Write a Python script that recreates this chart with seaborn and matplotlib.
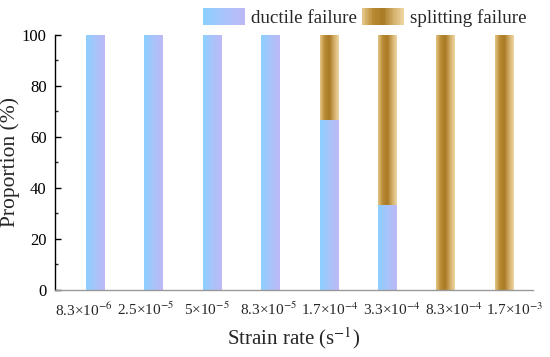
import matplotlib
matplotlib.use('Agg')
import matplotlib.pyplot as plt
import numpy as np
import pandas as pd
import seaborn as sns
from matplotlib.colors import LinearSegmentedColormap
from matplotlib.legend_handler import HandlerBase
from matplotlib.patches import Rectangle
from matplotlib.ticker import MultipleLocator, AutoMinorLocator

# Data
strain_rates = ['8.3×10$^{-6}$', '2.5×10$^{-5}$', '5×10$^{-5}$', '8.3×10$^{-5}$',
                '1.7×10$^{-4}$', '3.3×10$^{-4}$', '8.3×10$^{-4}$', '1.7×10$^{-3}$']
ductile = [100, 100, 100, 100, 66.7, 33.3, 0, 0]
splitting = [0, 0, 0, 0, 33.3, 66.7, 100, 100]

sns.set_style('ticks')
plt.rcParams['font.family'] = ['Liberation Serif', 'DejaVu Serif']
plt.rcParams['mathtext.fontset'] = 'stix'

blue_cmap = LinearSegmentedColormap.from_list('blue', ['#8bd0ff', '#a9c4fb', '#bdb9f6'])
gold_cmap = LinearSegmentedColormap.from_list('gold', ['#e4c483', '#b88a33', '#a87a24', '#d2ad67', '#eed6a3'])

df = pd.DataFrame({'rate': strain_rates, 'ductile': ductile, 'splitting': splitting})
df['total'] = df['ductile'] + df['splitting']

fig = plt.figure(figsize=(5.5, 3.57), dpi=100)
ax = fig.add_axes([0.1, 0.188, 0.869, 0.714])

# stacked bars: totals (splitting on top) then ductile in front
sns.barplot(data=df, x='rate', y='total', width=0.31, color='#b88a33', ax=ax)
gold_bars = list(ax.patches)
sns.barplot(data=df, x='rate', y='ductile', width=0.31, color='#a9c4fb', ax=ax)
blue_bars = list(ax.patches)[len(gold_bars):]

grad = np.linspace(0, 1, 64)[np.newaxis, :]


def add_gradient(patch, cmap, z):
    x0, y0 = patch.get_x(), patch.get_y()
    w, h = patch.get_width(), patch.get_height()
    if h <= 0:
        return
    im = ax.imshow(grad, cmap=cmap, extent=[x0, x0 + w, y0, y0 + h],
                   aspect='auto', interpolation='bilinear', zorder=z)
    im.set_clip_path(patch)


for p in gold_bars:
    p.set_zorder(1.0)
    p.set_edgecolor('none')
    add_gradient(p, gold_cmap, 1.1)
for p in blue_bars:
    p.set_zorder(1.2)
    p.set_edgecolor('none')
    add_gradient(p, blue_cmap, 1.3)

ax.set_xlim(-0.685, 7.5)
ax.set_ylim(0, 100)


# legend with gradient handles
class GradientHandler(HandlerBase):
    def __init__(self, cmap):
        super().__init__()
        self.cmap = cmap

    def create_artists(self, legend, orig_handle, xdescent, ydescent, width, height, fontsize, trans):
        n = 30
        arts = []
        for i in range(n):
            r = Rectangle((-xdescent + width * i / n, -ydescent), width / n * 1.05, height,
                          facecolor=self.cmap(i / (n - 1)), edgecolor='none', transform=trans)
            arts.append(r)
        return arts


h_duct = Rectangle((0, 0), 1, 1)
h_split = Rectangle((0, 0), 1, 1)
fig.legend([h_duct, h_split], ['ductile failure', 'splitting failure'],
           handler_map={h_duct: GradientHandler(blue_cmap), h_split: GradientHandler(gold_cmap)},
           loc='upper right', bbox_to_anchor=(0.978, 1.01), ncol=2, frameon=False,
           fontsize=13.7, handlelength=2.2, handleheight=1.05, handletextpad=0.3,
           columnspacing=0.3, borderaxespad=0.2)

# axes styling
sns.despine(ax=ax)
ax.spines['left'].set_color('black')
ax.spines['left'].set_linewidth(1.0)
ax.spines['bottom'].set_color('#999999')
ax.spines['bottom'].set_linewidth(1.0)
ax.yaxis.set_major_locator(MultipleLocator(20))
ax.yaxis.set_minor_locator(AutoMinorLocator(2))
ax.tick_params(axis='y', which='major', direction='in', length=4, width=1, labelsize=12,
               colors='black', pad=6)
ax.tick_params(axis='y', which='minor', direction='in', length=2, width=1)
ax.tick_params(axis='x', length=0, labelsize=11, pad=8)
ax.set_xticks(np.linspace(-0.19, 7.19, 8))
ax.set_xticklabels(strain_rates)
ax.set_ylabel('Proportion (%)', fontsize=15.5, labelpad=1)
ax.set_xlabel('Strain rate (s$^{-1}$)', fontsize=15, labelpad=5)

fig.savefig('out.png', dpi=100)
